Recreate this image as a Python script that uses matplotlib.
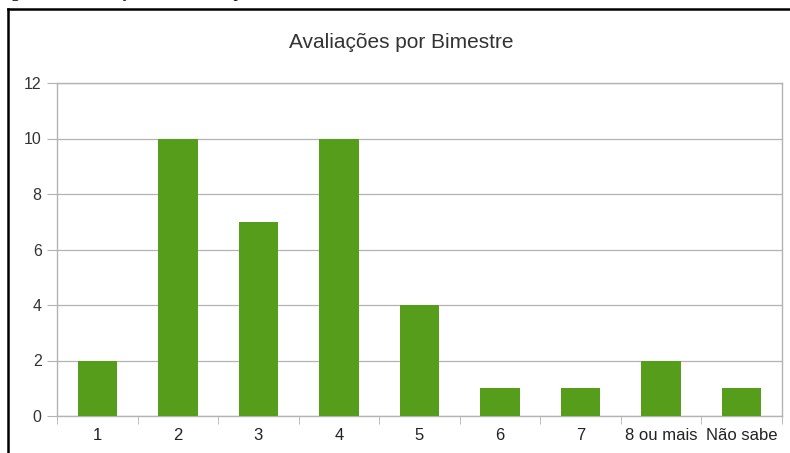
import matplotlib.pyplot as plt
from matplotlib.lines import Line2D
import numpy as np

categorias = ['1', '2', '3', '4', '5', '6', '7', '8 ou mais', 'Não sabe']
avaliacoes = [2, 10, 7, 10, 4, 1, 1, 2, 1]
yticks = [0, 2, 4, 6, 8, 10, 12]

W, H = 790, 453
fig = plt.figure(figsize=(W / 100, H / 100), dpi=100)
plt.rcParams['font.family'] = ['Liberation Sans', 'DejaVu Sans']

# moldura preta da figura (cortada a direita e embaixo)
fig.add_artist(Line2D([8 / W, 8 / W], [0, 1 - 9 / H], color='black', lw=1.8))
fig.add_artist(Line2D([8 / W, 1], [1 - 9 / H, 1 - 9 / H], color='black', lw=1.8))

# legenda da figura, quase toda fora da imagem
fig.text(-4 / W, 1 + 7 / H, 'Figura 10: Avaliações realizadas por bimestre',
         family='Liberation Serif', fontsize=13, va='center', ha='left', color='black')

x0, y0, x1, y1 = 57, 416, 782, 83
ax = fig.add_axes([x0 / W, (H - y0) / H, (x1 - x0) / W, (y0 - y1) / H])

x = np.arange(len(categorias))
ax.bar(x, avaliacoes, width=0.49, color='#579d1c', zorder=3)

ax.set_xlim(-0.5, len(categorias) - 0.5)
ax.set_ylim(0, 12)
ax.set_yticks(yticks)
ax.set_yticklabels([str(v) for v in yticks], fontsize=11.5, color='#333333')
ax.set_xticks(x)
ax.set_xticklabels(categorias, fontsize=12, color='#222222')
ax.set_xticks(np.arange(len(categorias) + 1) - 0.5, minor=True)
ax.tick_params(axis='x', which='major', length=0, pad=9)
ax.tick_params(axis='x', which='minor', length=6, color='#b3b3b3', direction='out')
ax.tick_params(axis='y', length=7, color='#b3b3b3', pad=4)

ax.grid(axis='y', color='#b3b3b3', lw=0.9, zorder=0)
for s in ax.spines.values():
    s.set_color('#b3b3b3')
    s.set_linewidth(1.0)

fig.text(401 / W, 1 - 43 / H, 'Avaliações por Bimestre',
         fontsize=15, color='#333333', ha='center', va='center')

fig.savefig('out.png', dpi=100, facecolor='white')
